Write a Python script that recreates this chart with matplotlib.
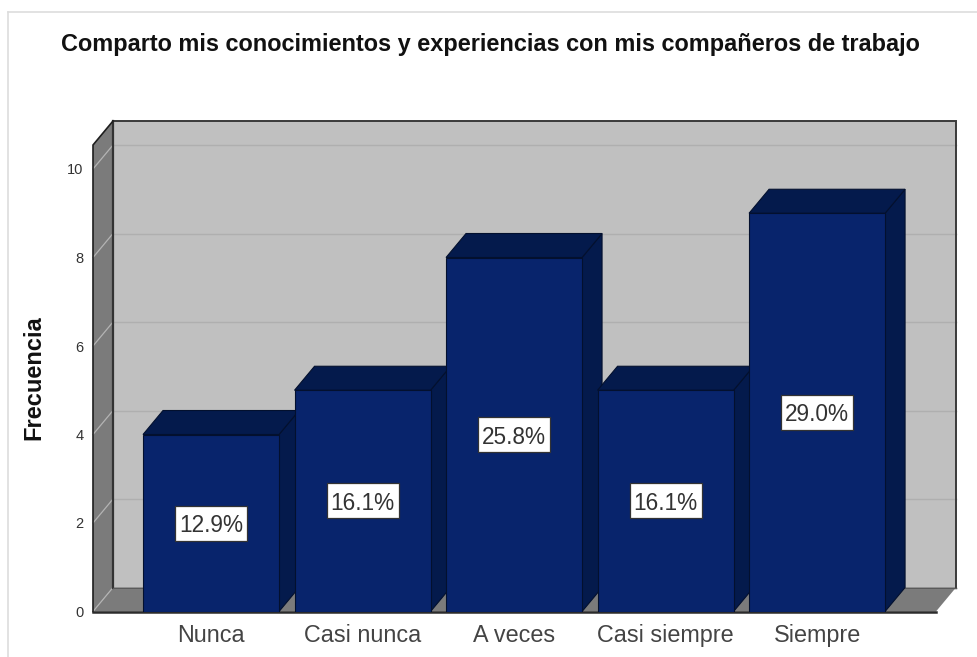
import matplotlib
matplotlib.use("Agg")
import matplotlib.pyplot as plt
from matplotlib.patches import Polygon, Rectangle
from matplotlib.lines import Line2D
from matplotlib.transforms import Affine2D

plt.rcParams['font.family'] = ['Liberation Sans', 'DejaVu Sans']

categories = ["Nunca", "Casi nunca", "A veces", "Casi siempre", "Siempre"]
frequencies = [4, 5, 8, 5, 9]
percent_labels = ["12.9%", "16.1%", "25.8%", "16.1%", "29.0%"]
y_ticks = [0, 2, 4, 6, 8, 10]
title = "Comparto mis conocimientos y experiencias con mis compañeros de trabajo"
y_label = "Frecuencia"

W, H = 977, 657
fig = plt.figure(figsize=(W / 100, H / 100), dpi=100, facecolor="white")

# page frame lines
fig.add_artist(Line2D([8 / W, 8 / W], [0, 1 - 12 / H], color="#DDDDDD", lw=1.2))
fig.add_artist(Line2D([8 / W, 1], [1 - 12 / H, 1 - 12 / H], color="#DDDDDD", lw=1.2))

L, R, Y0, Y10 = 93, 936, 611.5, 169
ax = fig.add_axes([L / W, 1 - Y0 / H, (R - L) / W, (Y0 - (Y10 - 24)) / H])
px_x = 151.5
px_y = (Y0 - Y10) / 10
xmin, xmax = -0.779, 4.785
ymax = (Y0 - 145) / px_y
ax.set_xlim(xmin, xmax)
ax.set_ylim(0, ymax)
ax.patch.set_visible(False)
for s in ax.spines.values():
    s.set_visible(False)

dx = 20 / px_x
dy = 24 / px_y
WALL, SIDE, EDGE = "#C0C0C0", "#7B7B7B", "#2B2B2B"
FRONT, DARK, BAR_EDGE = "#08246C", "#041A4C", "#03102E"


def poly(pts, fc, ec="none", lw=0.0, z=1):
    ax.add_patch(Polygon(pts, closed=True, facecolor=fc, edgecolor=ec, linewidth=lw,
                         zorder=z, clip_on=False, joinstyle="miter"))


# back wall, left wall, floor
poly([(xmin + dx, dy), (xmax + dx, dy), (xmax + dx, ymax + dy), (xmin + dx, ymax + dy)], WALL)
poly([(xmin, 0), (xmin + dx, dy), (xmin + dx, ymax + dy), (xmin, ymax)], SIDE)
poly([(xmin, 0), (xmax, 0), (xmax + dx, dy), (xmin + dx, dy)], SIDE)

# gridlines across back wall and left wall
for t in y_ticks:
    ax.plot([xmin + dx, xmax + dx], [t + dy, t + dy], color="#AFAFAF", lw=1.0, zorder=1.5,
            clip_on=False)
    ax.plot([xmin, xmin + dx], [t, t + dy], color="#B4B4B4", lw=0.9, zorder=1.5, clip_on=False)

# frame edges
ax.plot([xmin + dx, xmax + dx, xmax + dx], [ymax + dy, ymax + dy, dy], color="#3A3A3A", lw=1.4,
        zorder=1.6, clip_on=False, solid_joinstyle="miter")
ax.plot([xmin + dx, xmin + dx], [dy, ymax + dy], color="#333333", lw=1.6, zorder=1.6, clip_on=False)
ax.plot([xmin, xmin, xmin + dx], [0, ymax, ymax + dy], color="#1E1E1E", lw=1.2, zorder=1.6,
        clip_on=False, solid_joinstyle="miter")
ax.plot([xmin, xmax], [0, 0], color=EDGE, lw=1.8, zorder=1.7, clip_on=False)
ax.plot([xmin + dx, xmax + dx], [dy, dy], color="#5A5A5A", lw=1.0, zorder=1.6, clip_on=False)

# bars with top and side faces
half = 136 / px_x / 2
for i, (v, lab) in enumerate(zip(frequencies, percent_labels)):
    z = 2 + i
    a, b = i - half, i + half
    poly([(b, 0), (b + dx, dy), (b + dx, v + dy), (b, v)], DARK, BAR_EDGE, 0.8, z)
    poly([(a, v), (b, v), (b + dx, v + dy), (a + dx, v + dy)], DARK, BAR_EDGE, 0.8, z)
    ax.bar(i, v, width=2 * half, color=FRONT, edgecolor=BAR_EDGE, linewidth=0.8, zorder=z + 0.1)
    cx, cy = ax.transData.transform((i, v / 2))
    ax.add_patch(Rectangle((-36, -17.5), 72, 35, transform=Affine2D().translate(cx, cy),
                           facecolor="white", edgecolor="#333333", lw=0.9, zorder=19,
                           clip_on=False))
    ax.text(i, v / 2, lab, ha="center", va="center_baseline", fontsize=16.3, color="#333333",
            zorder=20)

ax.set_xticks(range(len(categories)), categories)
ax.set_yticks(y_ticks, [str(t) for t in y_ticks])
ax.tick_params(axis="x", length=0, pad=9, labelsize=16.8, labelcolor="#444444")
ax.tick_params(axis="y", length=0, pad=7, labelsize=10.5, labelcolor="#333333")

fig.text(490 / W, 1 - 45 / H, title, ha="center", va="center", fontsize=16.9, fontweight="bold",
         color="#111111")
fig.text(34 / W, 1 - 378 / H, y_label, ha="center", va="center", rotation=90, fontsize=17,
         fontweight="bold", color="#111111")

fig.savefig("out.png", dpi=100)
